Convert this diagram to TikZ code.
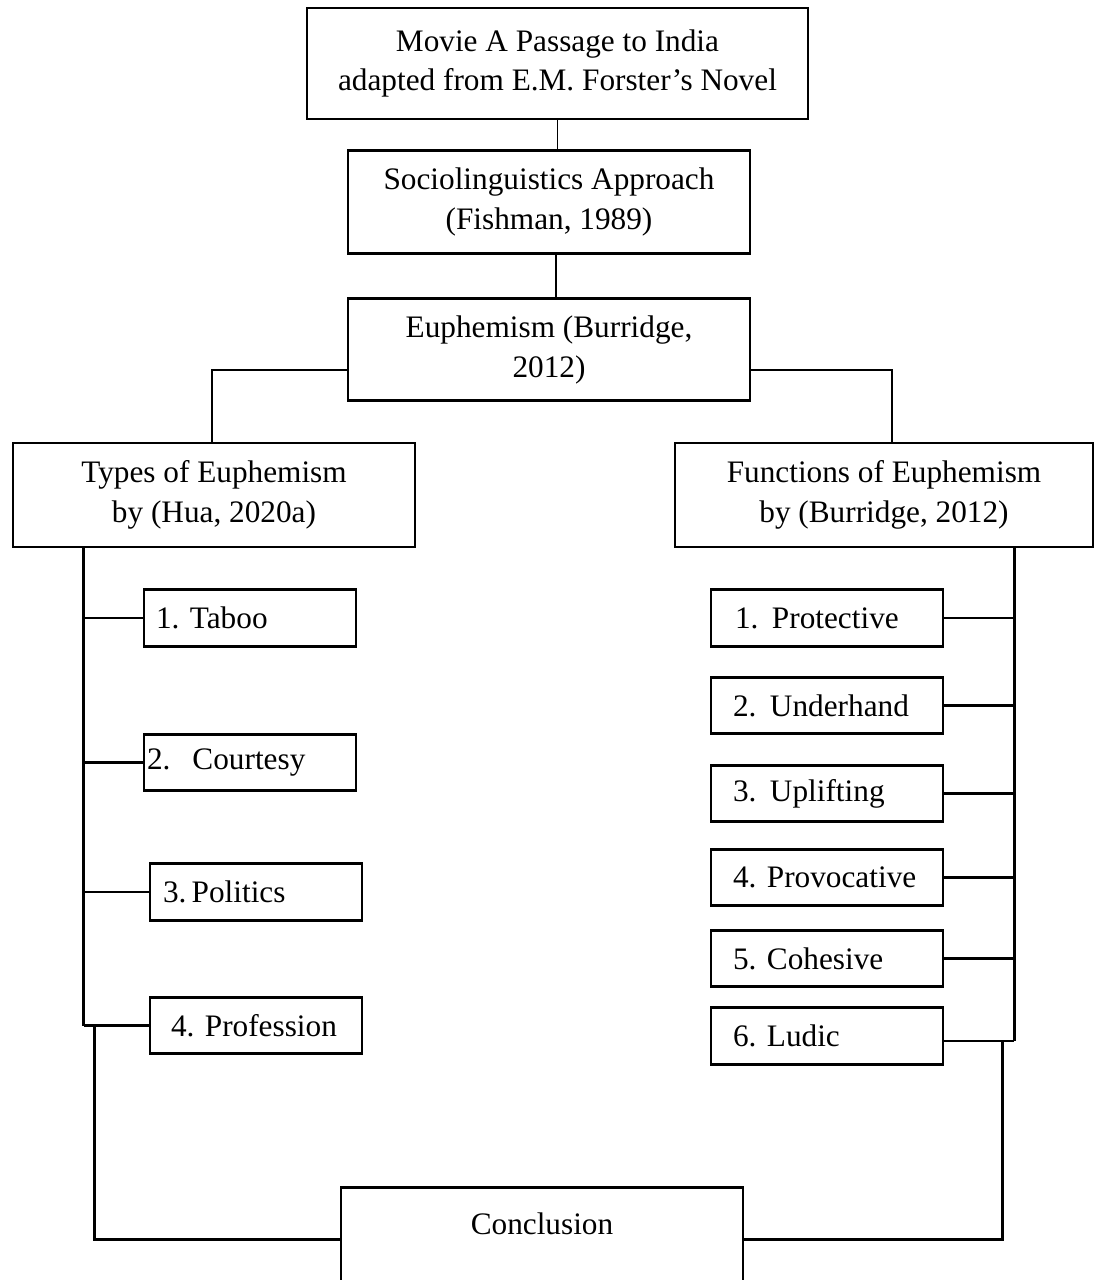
\documentclass[tikz,border=0pt]{standalone}
\usepackage{fontspec}
\setmainfont{Liberation Serif}
\usetikzlibrary{calc,positioning}
\frenchspacing

\begin{document}
\begin{tikzpicture}[
    x=0.02cm, y=-0.02cm,
    font=\fontsize{17.8}{22.7}\selectfont,
    box/.style={draw, line width=1.6pt, align=center, inner sep=0pt, minimum width=8.04cm, minimum height=2.06cm},
    typebox/.style={draw, line width=1.6pt, minimum height=1.13cm, inner xsep=0pt, align=left, text width=4.24cm, execute at begin node={\hspace*{#1}}},
    funcbox/.style={typebox=#1, text width=4.64cm},
    link/.style={line width=1.1pt},
    spine/.style={line width=1.6pt}
]
\path[use as bounding box, clip] (0,0) rectangle (1095,1280);

% top chain
\node[box, minimum width=10.02cm, minimum height=2.22cm] (movie) at (557.5,63.5) {Movie A Passage to India\\adapted from E.M. Forster's Novel};
\node[box, below=0.58cm of movie, xshift=-0.17cm] (socio) {Sociolinguistics Approach\\(Fishman, 1989)};
\node[box, below=0.84cm of socio, minimum height=2.04cm] (euph) {Euphemism (Burridge,\\2012)};
\node[box, minimum height=2.08cm] (types) at (214,495) {Types of Euphemism\\by (Hua, 2020a)};
\node[box, minimum width=8.36cm, minimum height=2.08cm] (func) at (884,495) {Functions of Euphemism\\by (Burridge, 2012)};

% types
\node[typebox=0.24cm] (taboo) at (250,618) {1. Taboo};
\node[typebox=0.06cm] (court) at (250,762.5) {2.\hspace{0.44cm}Courtesy};
\node[typebox=0.26cm] (polit) at (256,892) {3.\,Politics};
\node[typebox=0.42cm] (prof) at (256,1025.5) {4. Profession};

% functions
\node[funcbox=0.48cm] (prot) at (827,618) {1.\hspace{0.27cm}Protective};
\node[funcbox=0.44cm] (under) at (827,705.5) {2.\hspace{0.27cm}Underhand};
\node[funcbox=0.44cm] (upl) at (827,793.5) {3.\hspace{0.27cm}Uplifting};
\node[funcbox=0.44cm] (prov) at (827,877.5) {4. Provocative};
\node[funcbox=0.44cm] (cohe) at (827,958.5) {5. Cohesive};
\node[funcbox=0.44cm] (ludic) at (827,1036) {6. Ludic};

\node[draw, line width=1.6pt, inner ysep=0pt, minimum width=8.04cm, text height=0.94cm, text depth=1.14cm, anchor=north] (concl) at (542,1186) {Conclusion};

% links
\draw[link] (movie.south) -- (movie.south |- socio.north);
\draw[link] ($(socio.south)+(7,0)$) -- ($(euph.north)+(7,0)$);
\draw[link] ($(euph.west)+(0,20)$) -| ($(types.north)+(-2,0)$);
\draw[link] ($(euph.east)+(0,20)$) -| ($(func.north)+(8,0)$);

\coordinate (lsp) at ($(types.south west)+(72,0)$);
\coordinate (rsp) at ($(func.south east)+(-80,0)$);
\draw[spine] (lsp) -- (lsp |- prof.west);
\foreach \n in {taboo,court,polit,prof}
    \draw[spine] (lsp |- \n.west) -- (\n.west);
\draw[spine] (rsp) -- ($(rsp |- ludic.east)+(0,5)$);
\foreach \n in {prot,under,upl,prov,cohe}
    \draw[spine] (rsp |- \n.east) -- (\n.east);
\draw[spine] ($(ludic.east)+(0,5)$) -- ($(rsp |- ludic.east)+(0,5)$);

\coordinate (lb) at ($(lsp |- prof.west)+(11,0)$);
\coordinate (rb) at ($(rsp |- ludic.east)+(-12,5)$);
\draw[spine] (lb) |- (concl.west);
\draw[spine] (rb) |- (concl.east);
\end{tikzpicture}
\end{document}
